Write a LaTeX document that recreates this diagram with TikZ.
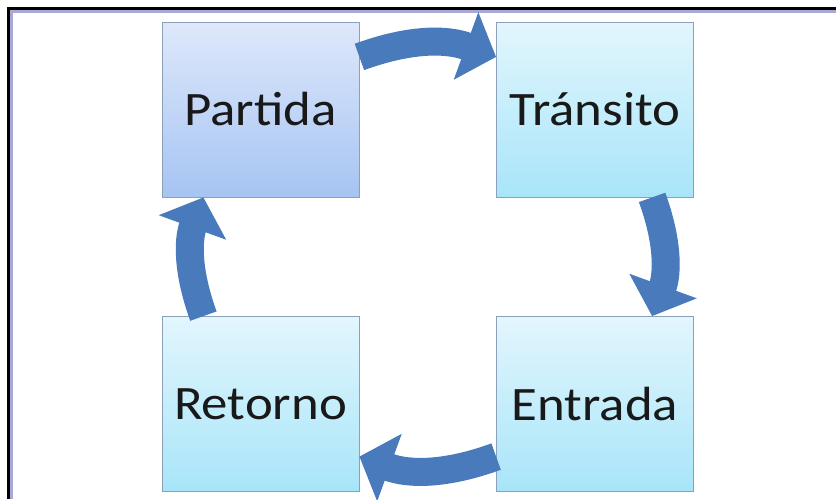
\documentclass[tikz,border=0pt]{standalone}
\usepackage{fontspec}
\setmainfont{Carlito}[FakeStretch=1.1]
\usetikzlibrary{arrows.meta}
\definecolor{flecha}{RGB}{72,122,188}
\definecolor{marco}{RGB}{140,160,185}
\definecolor{azularriba}{RGB}{222,232,251}
\definecolor{azulabajo}{RGB}{166,196,242}
\definecolor{cianarriba}{RGB}{226,246,253}
\definecolor{cianabajo}{RGB}{168,229,249}
\begin{document}
\begin{tikzpicture}[x=1pt,y=-1pt,
    etapa/.style={draw=marco, line width=0.8pt, minimum width=197pt, minimum height=175pt,
        inner sep=0pt, font=\fontsize{48}{52}\selectfont, text=black!90,
        top color=cianarriba, bottom color=cianabajo},
    inicio/.style={etapa, top color=azularriba, bottom color=azulabajo},
    ciclo/.style={draw=flecha, line width=28pt, -{Triangle[length=32pt,width=70pt]}}]
    % Area and frame
    \useasboundingbox (0,0) rectangle (836,499);
    \fill[white] (0,0) rectangle (836,499);
    \draw[blue!35!gray!50, line width=3pt] (11.5,499) -- (11.5,11.5) -- (836,11.5);
    \draw[black, line width=2.5pt] (8.5,499) -- (8.5,8.5) -- (836,8.5);

    % Stages
    \node[inicio] (partida) at (260.5,109.5) {Partida};
    \node[etapa] (transito) at (595,109.5) {Tránsito};
    \node[etapa] (entrada) at (595,404) {Entrada};
    \node[etapa] (retorno) at (260.5,404) {Retorno};

    % Cycle arrows
    \draw[ciclo] (partida.28) to[bend left=20] (transito.152);
    \draw[ciclo] (transito.303) to[bend left=20] (entrada.57);
    \draw[ciclo] (entrada.208) to[bend left=20] (retorno.332);
    \draw[ciclo] (retorno.123) to[bend left=20] (partida.237);
\end{tikzpicture}
\end{document}
